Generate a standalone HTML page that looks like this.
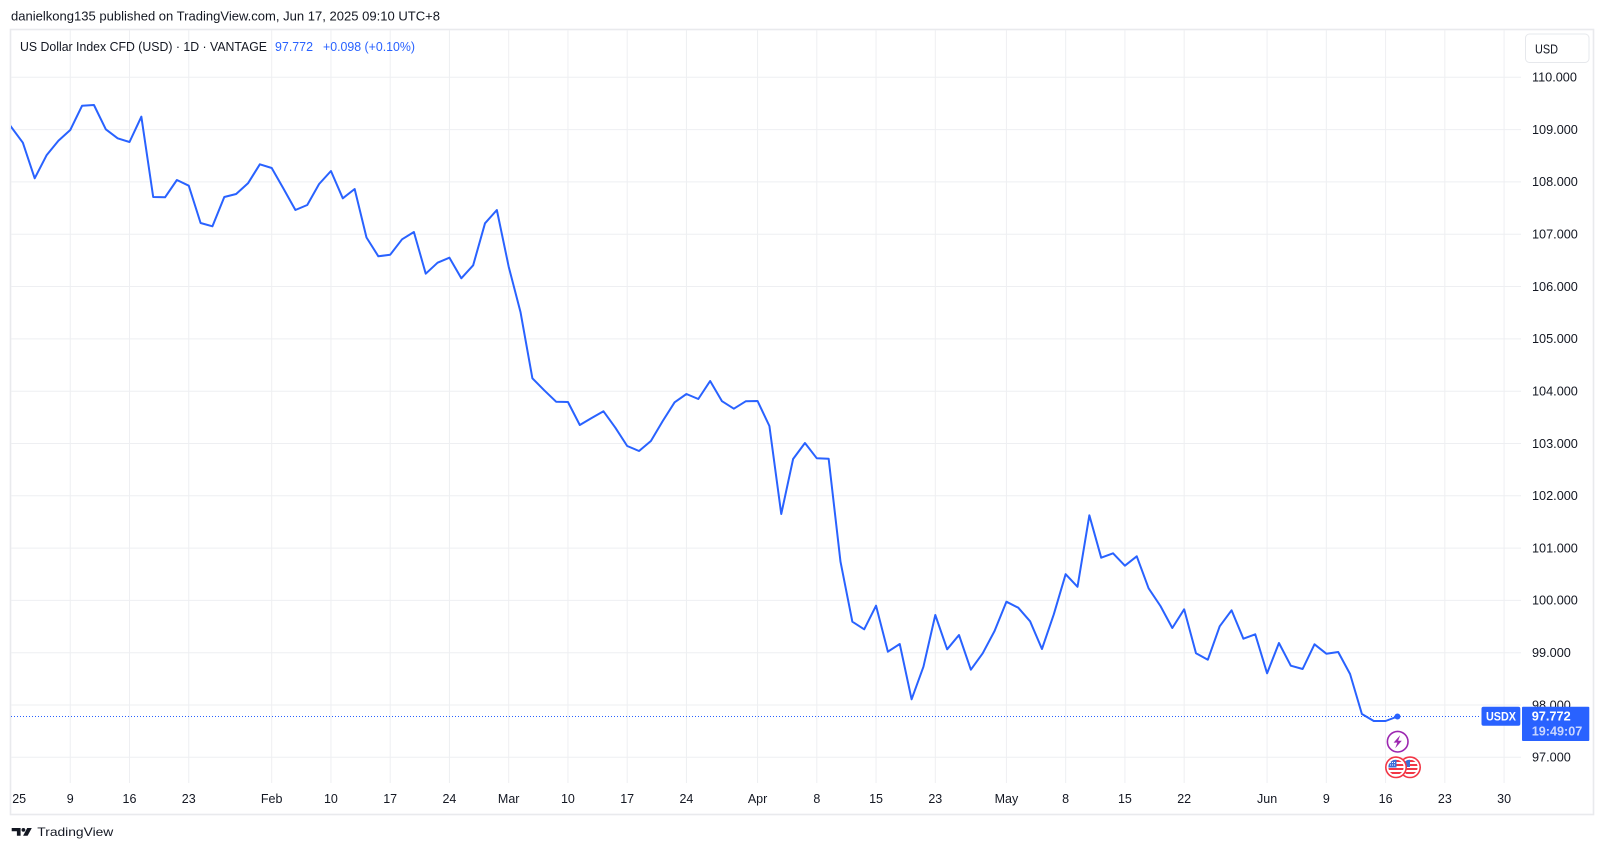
<!DOCTYPE html>
<html>
<head>
<meta charset="utf-8">
<style>
  html,body{margin:0;padding:0;background:#ffffff;}
  svg{display:block;}
  text{font-family:"Liberation Sans", sans-serif;}
</style>
</head>
<body>
<svg width="1604" height="853" viewBox="0 0 1604 853" xmlns="http://www.w3.org/2000/svg">
  <rect x="0" y="0" width="1604" height="853" fill="#ffffff"/>

  <!-- header -->
  <text x="11" y="20.7" font-size="13" fill="#131722" textLength="429" lengthAdjust="spacingAndGlyphs">danielkong135 published on TradingView.com, Jun 17, 2025 09:10 UTC+8</text>

  <!-- frame -->
  <rect x="10.5" y="29.5" width="1583" height="785" fill="#ffffff" stroke="#e9eaed" stroke-width="1.6"/>

  <defs>
    <clipPath id="plot"><rect x="11" y="30" width="1510" height="753"/></clipPath>
    <clipPath id="f1"><circle cx="1396" cy="767.3" r="7.6"/></clipPath>
    <clipPath id="f2"><circle cx="1410" cy="767.3" r="7.6"/></clipPath>
  </defs>

  <!-- grid -->
  <g stroke="#eeeff2" stroke-width="1">
    <line x1="11" x2="1521" y1="77.3" y2="77.3"/>
    <line x1="11" x2="1521" y1="129.6" y2="129.6"/>
    <line x1="11" x2="1521" y1="181.9" y2="181.9"/>
    <line x1="11" x2="1521" y1="234.2" y2="234.2"/>
    <line x1="11" x2="1521" y1="286.5" y2="286.5"/>
    <line x1="11" x2="1521" y1="338.9" y2="338.9"/>
    <line x1="11" x2="1521" y1="391.2" y2="391.2"/>
    <line x1="11" x2="1521" y1="443.5" y2="443.5"/>
    <line x1="11" x2="1521" y1="495.8" y2="495.8"/>
    <line x1="11" x2="1521" y1="548.1" y2="548.1"/>
    <line x1="11" x2="1521" y1="600.4" y2="600.4"/>
    <line x1="11" x2="1521" y1="652.7" y2="652.7"/>
    <line x1="11" x2="1521" y1="705.0" y2="705.0"/>
    <line x1="11" x2="1521" y1="757.3" y2="757.3"/>

    <line y1="30" y2="783" x1="70.25" x2="70.25"/>
    <line y1="30" y2="783" x1="129.5" x2="129.5"/>
    <line y1="30" y2="783" x1="188.75" x2="188.75"/>
    <line y1="30" y2="783" x1="271.7" x2="271.7"/>
    <line y1="30" y2="783" x1="330.95" x2="330.95"/>
    <line y1="30" y2="783" x1="390.2" x2="390.2"/>
    <line y1="30" y2="783" x1="449.45" x2="449.45"/>
    <line y1="30" y2="783" x1="508.7" x2="508.7"/>
    <line y1="30" y2="783" x1="567.95" x2="567.95"/>
    <line y1="30" y2="783" x1="627.2" x2="627.2"/>
    <line y1="30" y2="783" x1="686.45" x2="686.45"/>
    <line y1="30" y2="783" x1="757.55" x2="757.55"/>
    <line y1="30" y2="783" x1="816.8" x2="816.8"/>
    <line y1="30" y2="783" x1="876.05" x2="876.05"/>
    <line y1="30" y2="783" x1="935.3" x2="935.3"/>
    <line y1="30" y2="783" x1="1006.4" x2="1006.4"/>
    <line y1="30" y2="783" x1="1065.65" x2="1065.65"/>
    <line y1="30" y2="783" x1="1124.9" x2="1124.9"/>
    <line y1="30" y2="783" x1="1184.15" x2="1184.15"/>
    <line y1="30" y2="783" x1="1267.1" x2="1267.1"/>
    <line y1="30" y2="783" x1="1326.35" x2="1326.35"/>
    <line y1="30" y2="783" x1="1385.6" x2="1385.6"/>
    <line y1="30" y2="783" x1="1444.85" x2="1444.85"/>
    <line y1="30" y2="783" x1="1504.1" x2="1504.1"/>
  </g>

  <!-- legend -->
  <text x="20" y="51" font-size="13" fill="#131722" textLength="247" lengthAdjust="spacingAndGlyphs">US Dollar Index CFD (USD) · 1D · VANTAGE</text>
  <text x="275" y="51" font-size="13" fill="#2962ff" textLength="38" lengthAdjust="spacingAndGlyphs">97.772</text>
  <text x="323" y="51" font-size="13" fill="#2962ff" textLength="92" lengthAdjust="spacingAndGlyphs">+0.098 (+0.10%)</text>

  <!-- USD box -->
  <rect x="1525.5" y="34" width="63.5" height="28.5" rx="4" ry="4" fill="#ffffff" stroke="#e6e8ec" stroke-width="1"/>
  <text x="1535" y="53.3" font-size="12.5" fill="#131722" textLength="23" lengthAdjust="spacingAndGlyphs">USD</text>

  <!-- price labels -->
  <g font-size="12.7" fill="#131722">
    <text x="1532" y="81.6">110.000</text>
    <text x="1532" y="133.9">109.000</text>
    <text x="1532" y="186.2">108.000</text>
    <text x="1532" y="238.5">107.000</text>
    <text x="1532" y="290.8">106.000</text>
    <text x="1532" y="343.2">105.000</text>
    <text x="1532" y="395.5">104.000</text>
    <text x="1532" y="447.8">103.000</text>
    <text x="1532" y="500.1">102.000</text>
    <text x="1532" y="552.4">101.000</text>
    <text x="1532" y="604.7">100.000</text>
    <text x="1532" y="657.0">99.000</text>
    <text x="1532" y="709.3">98.000</text>
    <text x="1532" y="761.6">97.000</text>
  </g>

  <!-- time labels -->
  <g font-size="12.5" fill="#131722" text-anchor="middle">
    <text x="19.2" y="803">25</text>
    <text x="70.25" y="803">9</text>
    <text x="129.5" y="803">16</text>
    <text x="188.75" y="803">23</text>
    <text x="271.7" y="803">Feb</text>
    <text x="330.95" y="803">10</text>
    <text x="390.2" y="803">17</text>
    <text x="449.45" y="803">24</text>
    <text x="508.7" y="803">Mar</text>
    <text x="567.95" y="803">10</text>
    <text x="627.2" y="803">17</text>
    <text x="686.45" y="803">24</text>
    <text x="757.55" y="803">Apr</text>
    <text x="816.8" y="803">8</text>
    <text x="876.05" y="803">15</text>
    <text x="935.3" y="803">23</text>
    <text x="1006.4" y="803">May</text>
    <text x="1065.65" y="803">8</text>
    <text x="1124.9" y="803">15</text>
    <text x="1184.15" y="803">22</text>
    <text x="1267.1" y="803">Jun</text>
    <text x="1326.35" y="803">9</text>
    <text x="1385.6" y="803">16</text>
    <text x="1444.85" y="803">23</text>
    <text x="1504.1" y="803">30</text>
  </g>

  <!-- last price dotted line -->
  <line x1="11" x2="1481" y1="716.5" y2="716.5" stroke="#2962ff" stroke-width="1" stroke-dasharray="1 2"/>

  <!-- series -->
  <g clip-path="url(#plot)">
    <polyline fill="none" stroke="#2962ff" stroke-width="2" stroke-linejoin="round" stroke-linecap="round"
      points="-0.85,110 11,126.7 22.85,142.7 34.7,178.3 46.55,155.3 58.4,140.7 70.25,130 82.1,105.7 93.95,105 105.8,129.3 117.65,138.3 129.5,142 141.35,116.7 153.2,197 165.05,197.3 176.9,180 188.75,185.7 200.6,223 212.45,226.3 224.3,197 236.15,194 248,183.3 259.85,164.3 271.7,168 283.55,188.7 295.4,210 307.25,205 319.1,184 330.95,171 342.8,198.3 354.65,189 366.5,237.5 378.35,256.3 390.2,254.7 402.05,239.3 413.9,232 425.75,273.7 437.6,262.7 449.45,257.7 461.3,278.3 473.15,265.3 485,223.3 496.85,210 508.7,266.7 520.55,312.3 532.4,378.3 544.25,390.3 556.1,401.7 567.95,402 579.8,425 591.65,418 603.5,411.3 615.35,427.7 627.2,446 639.05,451 650.9,441 662.75,421 674.6,402.3 686.45,394 698.3,399 710.15,381 722,401.2 733.85,408.7 745.7,401.3 757.55,401 769.4,426 781.25,514 793.1,459 804.95,443 816.8,458.3 828.65,458.7 840.5,561.7 852.35,621.7 864.2,629.3 876.05,605.7 887.9,651.7 899.75,644 911.6,699.3 923.45,666.7 935.3,615 947.15,649.3 959,635 970.85,669.7 982.7,653.3 994.55,631 1006.4,601.7 1018.25,607.7 1030.1,621.3 1041.95,649 1053.8,614.3 1065.65,574.2 1077.5,586.8 1089.35,515.3 1101.2,557.7 1113.05,553.3 1124.9,565.7 1136.75,556.3 1148.6,588.3 1160.45,606 1172.3,628 1184.15,609.3 1196,653.3 1207.85,659.7 1219.7,626.3 1231.55,610.3 1243.4,638.7 1255.25,634.3 1267.1,673.3 1278.95,643 1290.8,665.7 1302.65,669 1314.5,644.3 1326.35,653.7 1338.2,652 1350.05,674 1361.9,714 1373.75,721 1385.6,721 1397.45,716.5"/>
    <circle cx="1397.45" cy="716.5" r="3" fill="#2962ff"/>
  </g>

  <!-- lightning event icon -->
  <circle cx="1397.7" cy="741.7" r="10.3" fill="#ffffff" stroke="#9c27b0" stroke-width="1.6"/>
  <polygon points="1400.2,735.2 1393.6,742.6 1397.3,742.6 1395.2,748.3 1401.8,740.8 1398.1,740.8" fill="#9c27b0"/>

  <!-- flag icons (second behind) -->
  <g>
    <circle cx="1410" cy="767.3" r="10.2" fill="#ffffff" stroke="#f23645" stroke-width="1.6"/>
    <g clip-path="url(#f2)">
      <rect x="1402" y="759" width="16" height="17" fill="#ffffff"/>
      <rect x="1402" y="760" width="16" height="2" fill="#f23645"/>
      <rect x="1402" y="764" width="16" height="2" fill="#f23645"/>
      <rect x="1402" y="768" width="16" height="2" fill="#f23645"/>
      <rect x="1402" y="772" width="16" height="2" fill="#f23645"/>
      <rect x="1402" y="759" width="8" height="8" fill="#3c6fd8"/>
    </g>
  </g>
  <g>
    <circle cx="1396" cy="767.3" r="10.2" fill="#ffffff" stroke="#f23645" stroke-width="1.6"/>
    <g clip-path="url(#f1)">
      <rect x="1388" y="759" width="16" height="17" fill="#ffffff"/>
      <rect x="1388" y="760" width="16" height="2" fill="#f23645"/>
      <rect x="1388" y="764" width="16" height="2" fill="#f23645"/>
      <rect x="1388" y="768" width="16" height="2" fill="#f23645"/>
      <rect x="1388" y="772" width="16" height="2" fill="#f23645"/>
      <rect x="1388" y="759" width="8.5" height="8.5" fill="#3c6fd8"/>
      <g fill="#ffffff">
        <rect x="1390" y="762" width="1" height="1"/><rect x="1392" y="762" width="1" height="1"/><rect x="1394" y="762" width="1" height="1"/>
        <rect x="1390" y="764.5" width="1" height="1"/><rect x="1392" y="764.5" width="1" height="1"/><rect x="1394" y="764.5" width="1" height="1"/>
      </g>
    </g>
  </g>

  <!-- USDX label -->
  <rect x="1481.5" y="706.7" width="38.8" height="19" rx="2" ry="2" fill="#2962ff"/>
  <text x="1486" y="720.7" font-size="11.5" font-weight="bold" fill="#ffffff" textLength="30" lengthAdjust="spacingAndGlyphs">USDX</text>

  <!-- price box -->
  <rect x="1522" y="706.7" width="67.3" height="34.3" rx="1" ry="1" fill="#2962ff"/>
  <text x="1531.7" y="720.3" font-size="12.7" font-weight="bold" fill="#ffffff" textLength="39" lengthAdjust="spacingAndGlyphs">97.772</text>
  <text x="1531.7" y="735.7" font-size="12.7" font-weight="bold" fill="#c9d6ff" textLength="50.6" lengthAdjust="spacingAndGlyphs">19:49:07</text>

  <!-- TradingView logo -->
  <g fill="#131722">
    <path d="M11.7 828 H20.6 V835.8 H16.9 V831.2 H11.7 Z"/>
    <circle cx="23.4" cy="829.9" r="1.9"/>
    <polygon points="27.2,828 31.8,828 27.6,835.8 23.1,835.8"/>
  </g>
  <text x="37.3" y="835.8" font-size="12" fill="#131722" textLength="76" lengthAdjust="spacingAndGlyphs">TradingView</text>
</svg>
</body>
</html>
